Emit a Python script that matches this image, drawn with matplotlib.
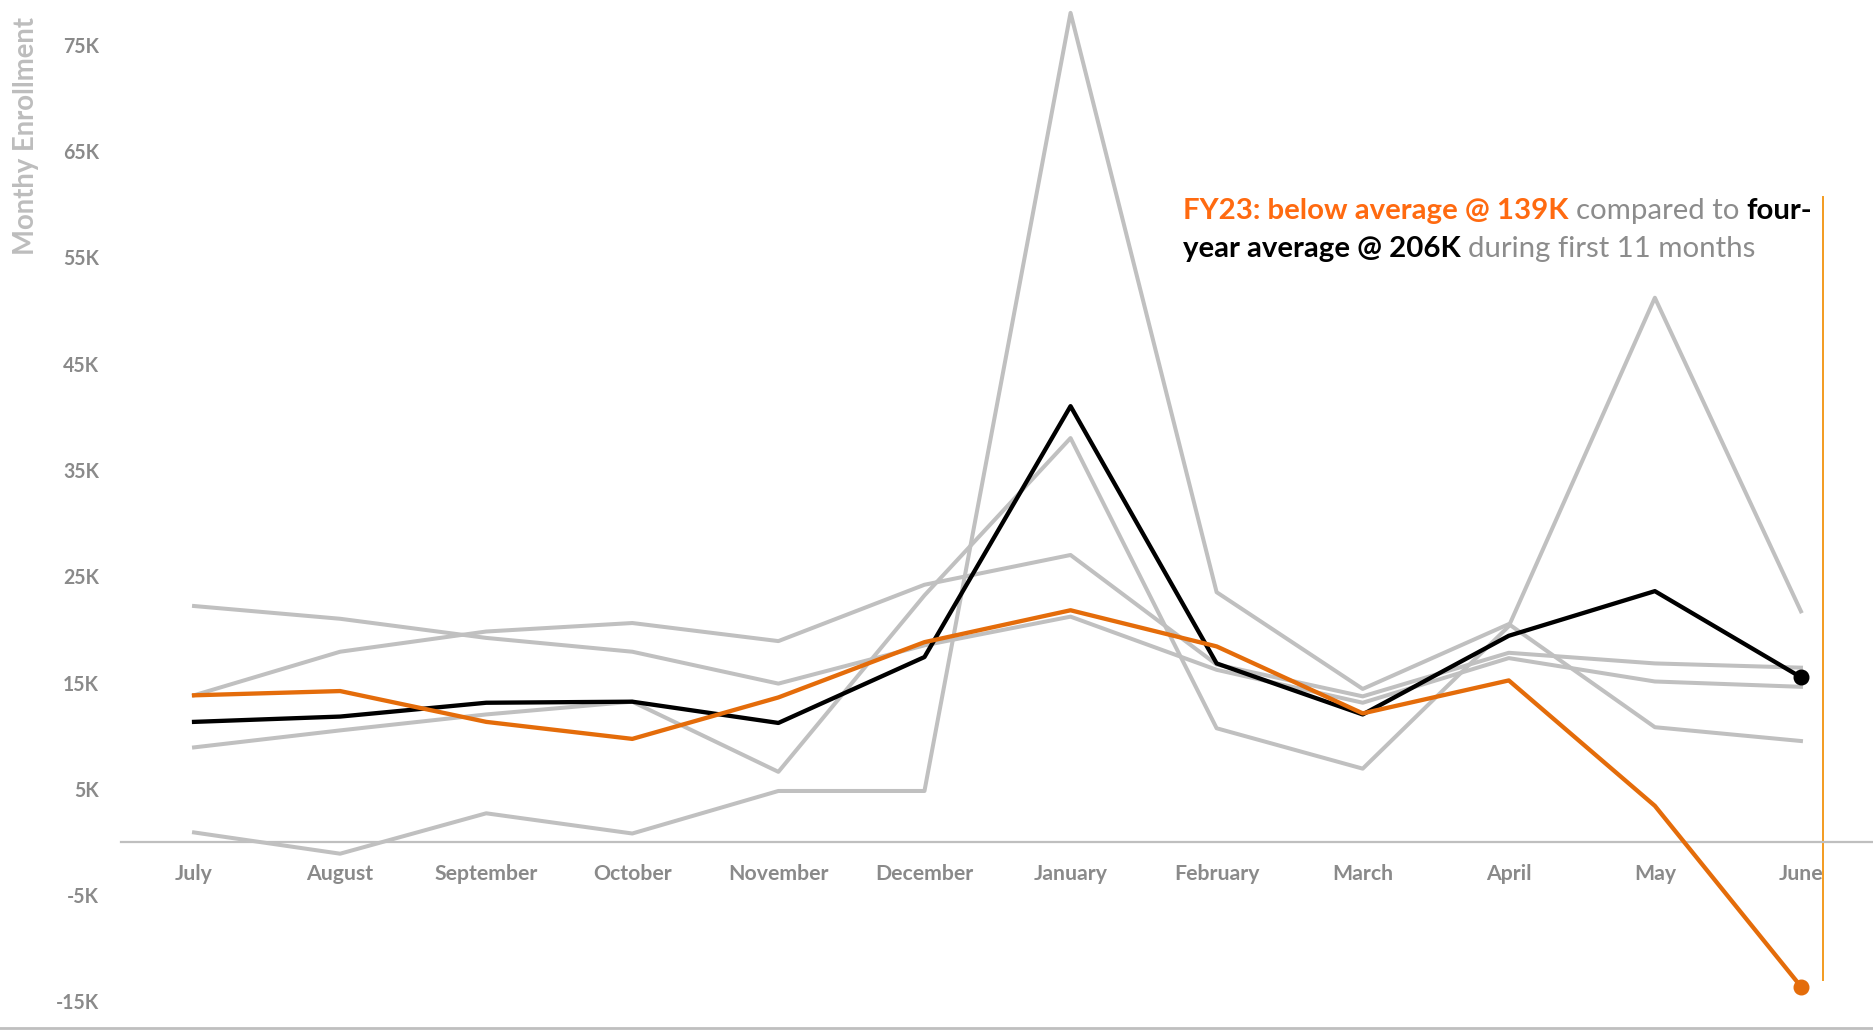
import matplotlib
matplotlib.use('Agg')
import matplotlib.pyplot as plt
from matplotlib.lines import Line2D

W, H, DPI = 1874, 1031, 100

# ---------------- data (thousands) ----------------
months = ['July', 'August', 'September', 'October', 'November', 'December',
          'January', 'February', 'March', 'April', 'May', 'June']
fy23 = [13.8, 14.2, 11.3, 9.7, 13.6, 18.8, 21.8, 18.4, 12.1, 15.2, 3.4, -13.6]
four_year_avg = [11.3, 11.8, 13.1, 13.2, 11.2, 17.4, 41.0, 16.8, 12.0, 19.4, 23.6, 15.5]
prior_a = [13.8, 17.9, 19.8, 20.6, 18.9, 24.2, 27.0, 16.7, 13.7, 17.8, 16.8, 16.4]
prior_b = [22.2, 21.0, 19.2, 17.9, 14.9, 18.5, 21.2, 16.2, 13.1, 17.3, 15.1, 14.6]
prior_c = [8.9, 10.5, 12.0, 13.2, 6.6, 23.2, 38.0, 10.7, 6.9, 20.3, 51.2, 21.7]
prior_d = [0.9, -1.1, 2.7, 0.8, 4.8, 4.8, 78.0, 23.5, 14.4, 20.5, 10.8, 9.5]
prior_years = [prior_a, prior_b, prior_c, prior_d]
ytick_values = [75, 65, 55, 45, 35, 25, 15, 5, -5, -15]
ytick_labels = ['75K', '65K', '55K', '45K', '35K', '25K', '15K', '5K', '-5K', '-15K']

# ---------------- styles ----------------
GRAY_LINE = '#C0C0C0'
ORANGE_LINE = '#E46C0A'
ORANGE_TEXT = '#FF6A10'
AMBER = '#F39B1F'
TICK_GRAY = '#8A8A8A'
NOTE_GRAY = '#8C8C8C'
FONT = 'Lato'

plt.rcParams['font.family'] = [FONT, 'DejaVu Sans']

fig = plt.figure(figsize=(W / DPI, H / DPI), dpi=DPI)
fig.patch.set_facecolor('white')

# axes placement (pixels)
ax_left_px, ax_right_px = 121, 1874
zero_px, ppk = 842.0, 10.63
ylo, yhi = -17, 79
top_px = zero_px - yhi * ppk
bot_px = zero_px - ylo * ppk
ax = fig.add_axes([ax_left_px / W, (H - bot_px) / H,
                   (ax_right_px - ax_left_px) / W, (bot_px - top_px) / H])
ax.set_xlim(-0.5, 11.5)
ax.set_ylim(ylo, yhi)
ax.set_facecolor('none')

x = list(range(len(months)))
for series in prior_years:
    ax.plot(x, series, color=GRAY_LINE, lw=2.9, clip_on=False, zorder=2)
ax.plot(x, four_year_avg, color='black', lw=3.1, clip_on=False, zorder=3)
ax.plot(x[-1:], four_year_avg[-1:], 'o', color='black', ms=10.5, clip_on=False, zorder=4)
ax.plot(x, fy23, color=ORANGE_LINE, lw=3.1, clip_on=False, zorder=5)
ax.plot(x[-1:], fy23[-1:], 'o', color=ORANGE_LINE, ms=10.5, clip_on=False, zorder=6)

# axes styling
for s in ['top', 'right', 'left']:
    ax.spines[s].set_visible(False)
ax.spines['bottom'].set_position(('data', 0))
ax.spines['bottom'].set_color('#BFBFBF')
ax.spines['bottom'].set_linewidth(1.6)
ax.spines['bottom'].set_zorder(1)
ax.set_xticks(x)
ax.set_xticklabels(months)
ax.set_yticks(ytick_values)
ax.set_yticklabels(ytick_labels)
ax.tick_params(axis='both', length=0, colors=TICK_GRAY)
ax.tick_params(axis='x', pad=16)
ax.tick_params(axis='y', pad=16)

fig.canvas.draw()
renderer = fig.canvas.get_renderer()

def width_of(txt, size, weight='normal'):
    t = fig.text(0, 0, txt, fontsize=size, fontweight=weight)
    w = t.get_window_extent(renderer).width
    t.remove()
    return w

TICK_W = 'bold'
xs = 12 * 103 / width_of('September', 12, TICK_W)
ys = 12 * 36 / width_of('75K', 12, TICK_W)
for lab in ax.get_xticklabels():
    lab.set_fontsize(xs)
    lab.set_fontweight(TICK_W)
for lab in ax.get_yticklabels():
    lab.set_fontsize(ys)
    lab.set_fontweight(TICK_W)

# y label
yl_size = 12 * 238 / width_of('Monthy Enrollment', 12, TICK_W)
fig.text(26 / W, 1 - 136 / H, 'Monthy Enrollment', rotation=90, color='#BDBDBD',
         fontsize=yl_size, fontweight=TICK_W, ha='center', va='center')

# bottom border line
fig.add_artist(Line2D([0, 1], [1 - 1028 / H, 1 - 1028 / H], color='#BFBFBF', lw=2.0))

# annotation bracket line
ANN_X = 11.15
ANN_TOP, ANN_BOT = 60.7, -13.0
ax.plot([ANN_X, ANN_X], [ANN_TOP, ANN_BOT], color=AMBER, lw=1.4, clip_on=False, zorder=1)

# annotation text (mixed colours)
line1 = [('FY23: below average @ 139K', ORANGE_TEXT, 'bold'),
         ('compared to', NOTE_GRAY, 'normal'),
         ('four-', 'black', 'bold')]
line2 = [('year average @ 206K', 'black', 'bold'),
         ('during first 11 months', NOTE_GRAY, 'normal')]

def seg_width(segs, size):
    total = 0
    for i, (t, c, wgt) in enumerate(segs):
        total += width_of(t, size, wgt)
        if i < len(segs) - 1:
            total += width_of('a a', size, 'normal') - width_of('aa', size, 'normal')
    return total

ann_size = 20 * 628 / seg_width(line1, 20)

def draw_segs(segs, x_px, base_px, size):
    xp = x_px
    sp = width_of('a a', size, 'normal') - width_of('aa', size, 'normal')
    for t, c, wgt in segs:
        tx = fig.text(xp / W, 1 - base_px / H, t, color=c, fontweight=wgt,
                      fontsize=size, ha='left', va='baseline')
        xp += tx.get_window_extent(renderer).width + sp

draw_segs(line1, 1183, 219, ann_size)
draw_segs(line2, 1183, 257, ann_size)

fig.savefig('out.png', dpi=DPI, facecolor='white')
